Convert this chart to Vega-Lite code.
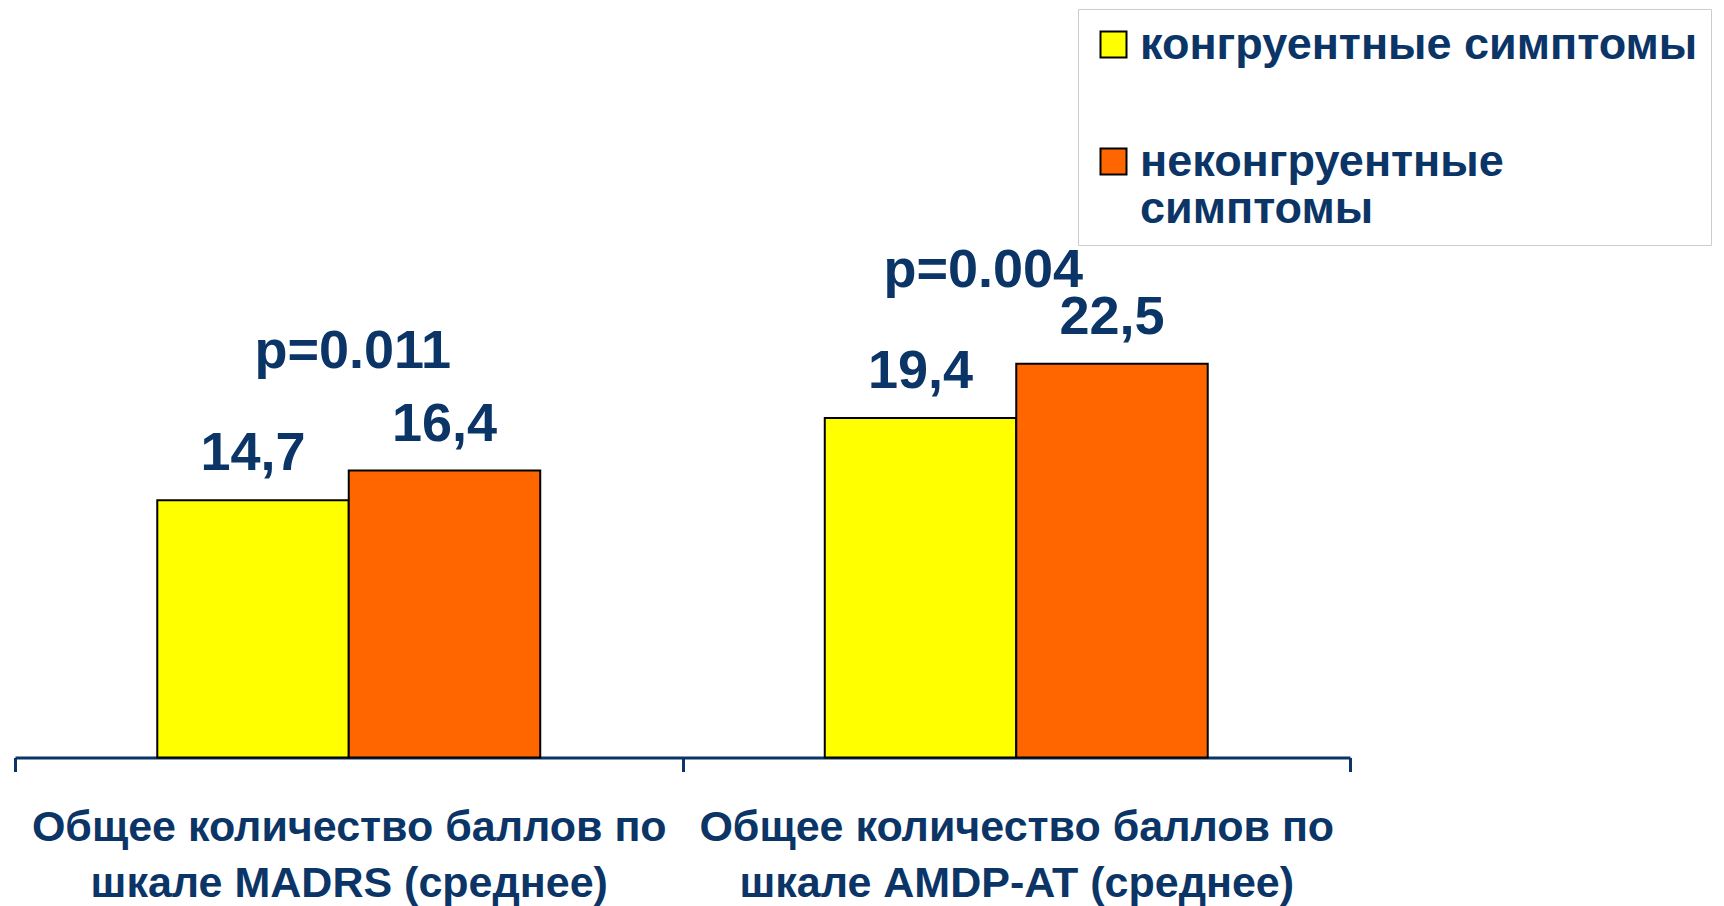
{
  "$schema": "https://vega.github.io/schema/vega-lite/v6.json",
  "width": 1335,
  "height": 525,
  "autosize": "none",
  "padding": {"left": 15, "top": 232.5, "right": 374, "bottom": 148.5},
  "background": "white",
  "config": {
    "view": {"stroke": null},
    "font": "Liberation Sans",
    "locale": {"number": {"decimal": ",", "thousands": " ", "grouping": [3], "currency": ["", ""]}}
  },
  "data": {
    "values": [
      {"scale": "Общее количество баллов по шкале MADRS (среднее)", "group": "конгруентные симптомы", "value": 14.7, "p": "p=0.011"},
      {"scale": "Общее количество баллов по шкале MADRS (среднее)", "group": "неконгруентные симптомы", "value": 16.4, "p": "p=0.011"},
      {"scale": "Общее количество баллов по шкале AMDP-AT (среднее)", "group": "конгруентные симптомы", "value": 19.4, "p": "p=0.004"},
      {"scale": "Общее количество баллов по шкале AMDP-AT (среднее)", "group": "неконгруентные симптомы", "value": 22.5, "p": "p=0.004"}
    ]
  },
  "encoding": {
    "x": {
      "field": "scale",
      "type": "nominal",
      "sort": null,
      "scale": {"paddingInner": 0, "paddingOuter": 0},
      "axis": {
        "title": null,
        "labelAngle": 0,
        "domainColor": "#0b3566",
        "domainWidth": 3,
        "tickColor": "#0b3566",
        "tickWidth": 3,
        "tickSize": 14,
        "tickBand": "extent",
        "labelFont": "Liberation Sans",
        "labelFontSize": 43,
        "labelFontWeight": "bold",
        "labelColor": "#0b3566",
        "labelLineHeight": 56,
        "labelPadding": 35,
        "labelLimit": 900,
        "labelExpr": "[slice(datum.label, 0, indexof(datum.label, ' шкале')), slice(datum.label, indexof(datum.label, 'шкале'))]"
      }
    },
    "y": {
      "field": "value",
      "type": "quantitative",
      "scale": {"domain": [0, 30]},
      "axis": null
    }
  },
  "layer": [
    {
      "mark": {"type": "bar", "stroke": "black", "strokeWidth": 2},
      "encoding": {
        "xOffset": {"field": "group", "scale": {"paddingInner": 0, "paddingOuter": 0.743}},
        "color": {
          "field": "group",
          "type": "nominal",
          "scale": {"domain": ["конгруентные симптомы", "неконгруентные симптомы"], "range": ["#ffff00", "#ff6600"]},
          "legend": {
            "title": null,
            "orient": "none",
            "legendX": 1063,
            "legendY": -223.5,
            "direction": "vertical",
            "padding": 13,
            "strokeColor": "#cccccc",
            "fillColor": "white",
            "symbolType": "square",
            "symbolSize": 676,
            "symbolStrokeColor": "black",
            "symbolStrokeWidth": 2,
            "labelOffset": 4,
            "labelFont": "Liberation Sans",
            "labelFontSize": 45,
            "labelFontWeight": "bold",
            "labelColor": "#0b3566",
            "labelLimit": 1000,
            "rowPadding": 71,
            "labelExpr": "datum.label == 'неконгруентные симптомы' ? ['неконгруентные', 'симптомы'] : datum.label"
          }
        }
      }
    },
    {
      "mark": {"type": "text", "baseline": "alphabetic", "dy": -30, "font": "Liberation Sans", "fontSize": 54, "fontWeight": "bold", "color": "#0b3566"},
      "encoding": {
        "xOffset": {"field": "group"},
        "text": {"field": "value", "type": "quantitative", "format": ".1f"}
      }
    },
    {
      "transform": [{"filter": "indexof(datum.scale, 'MADRS') >= 0"}],
      "mark": {"type": "text", "baseline": "alphabetic", "dy": -103, "dx": 4, "font": "Liberation Sans", "fontSize": 54, "fontWeight": "bold", "color": "#0b3566"},
      "encoding": {
        "y": {"aggregate": "max", "field": "value", "type": "quantitative"},
        "text": {"field": "p", "type": "nominal"}
      }
    },
    {
      "transform": [{"filter": "indexof(datum.scale, 'AMDP') >= 0"}],
      "mark": {"type": "text", "baseline": "alphabetic", "dy": -77, "dx": -33, "font": "Liberation Sans", "fontSize": 54, "fontWeight": "bold", "color": "#0b3566"},
      "encoding": {
        "y": {"aggregate": "max", "field": "value", "type": "quantitative"},
        "text": {"field": "p", "type": "nominal"}
      }
    }
  ]
}
